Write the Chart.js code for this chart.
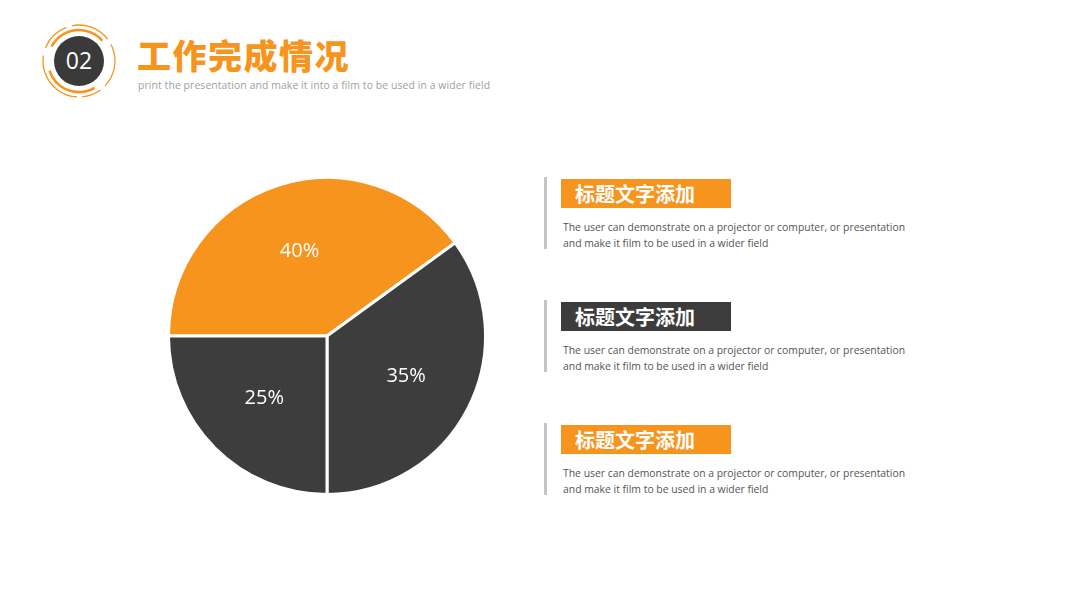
<!DOCTYPE html>
<html>
<head>
<meta charset="utf-8">
<script src="https://cdn.jsdelivr.net/npm/chart.js@4/dist/chart.umd.min.js"></script>
<style>
  html, body { margin: 0; padding: 0; background: #fff; }
  body { width: 1067px; height: 600px; position: relative; overflow: hidden;
         font-family: "Open Sans", "Noto Sans CJK SC", sans-serif; }
  .badge { position: absolute; left: 39px; top: 21px; width: 80px; height: 80px; }
  .title { position: absolute; left: 137px; top: 34px; font-family: "Noto Sans CJK SC", sans-serif;
           font-weight: 900; font-size: 34px; line-height: 42px; color: #F7941D; letter-spacing: 1.5px; }
  .subtitle { position: absolute; left: 138px; top: 78px; font-size: 10.4px; color: #a0a0a0; letter-spacing: 0.1px; }
  .pie-wrap { position: absolute; left: 167px; top: 176px; width: 320px; height: 320px; }
  .item { position: absolute; left: 544px; width: 440px; }
  .item .bar { position: absolute; left: 0; top: 0; width: 3px; height: 72px; background: #c4c4c4; }
  .item .tag { position: absolute; left: 17px; top: 2px; width: 170px; height: 29px; color: #fff;
               font-family: "Noto Sans CJK SC", sans-serif; font-weight: 700; font-size: 20px;
               line-height: 29px; text-indent: 14px; }
  .item .desc { position: absolute; left: 19px; top: 43px; font-size: 10.4px; line-height: 15.5px; color: #555; }
</style>
</head>
<body>
<svg class="badge" viewBox="0 0 80 80">
  <circle cx="40" cy="40" r="36" fill="none" stroke="#F7941D" stroke-width="1.3" stroke-dasharray="40 6 20 5 60 8 30 6" transform="rotate(-20 40 40)"/>
  <circle cx="40" cy="40" r="31" fill="none" stroke="#F7941D" stroke-width="2.5" stroke-dasharray="55 25 60 55" transform="rotate(60 40 40)"/>
  <circle cx="40" cy="40" r="25" fill="#3a3a3a"/>
  <text x="40" y="48" text-anchor="middle" font-family="Open Sans, sans-serif" font-size="23" fill="#fff">02</text>
</svg>
<div class="title">工作完成情况</div>
<div class="subtitle">print the presentation and make it into a film to be used in a wider field</div>

<div class="pie-wrap"><canvas id="chart"></canvas></div>

<div class="item" style="top:177px">
  <div class="bar"></div>
  <div class="tag" style="background:#F7941D">标题文字添加</div>
  <div class="desc">The user can demonstrate on a projector or computer, or presentation<br>and make it film to be used in a wider field</div>
</div>
<div class="item" style="top:300px">
  <div class="bar"></div>
  <div class="tag" style="background:#3c3c3c">标题文字添加</div>
  <div class="desc">The user can demonstrate on a projector or computer, or presentation<br>and make it film to be used in a wider field</div>
</div>
<div class="item" style="top:423px">
  <div class="bar"></div>
  <div class="tag" style="background:#F7941D">标题文字添加</div>
  <div class="desc">The user can demonstrate on a projector or computer, or presentation<br>and make it film to be used in a wider field</div>
</div>

<script>
const labels = ['A', 'B', 'C'];
const values = [40, 35, 25];
const colors = ['#F7941D', '#3d3d3d', '#3d3d3d'];

// write the percentage inside each slice
const sliceLabels = {
  id: 'sliceLabels',
  afterDatasetsDraw(chart) {
    const ctx = chart.ctx;
    const meta = chart.getDatasetMeta(0);
    ctx.save();
    ctx.fillStyle = '#fff';
    ctx.font = '20px "Open Sans", sans-serif';
    ctx.textAlign = 'center';
    ctx.textBaseline = 'middle';
    meta.data.forEach((arc, i) => {
      const p = arc.getProps(['x', 'y', 'startAngle', 'endAngle', 'outerRadius'], true);
      const mid = (p.startAngle + p.endAngle) / 2;
      const r = p.outerRadius * 0.56;
      ctx.fillText(values[i] + '%', p.x + Math.cos(mid) * r, p.y + Math.sin(mid) * r);
    });
    ctx.restore();
  }
};

const ctx = document.getElementById('chart').getContext('2d');
new Chart(ctx, {
  type: 'pie',
  data: {
    labels: labels,
    datasets: [{
      data: values,
      backgroundColor: colors,
      borderColor: '#fff',
      borderWidth: 3
    }]
  },
  options: {
    responsive: true,
    maintainAspectRatio: false,
    animation: false,
    rotation: 270,
    plugins: { legend: { display: false }, tooltip: { enabled: false } }
  },
  plugins: [sliceLabels]
});
</script>
</body>
</html>
